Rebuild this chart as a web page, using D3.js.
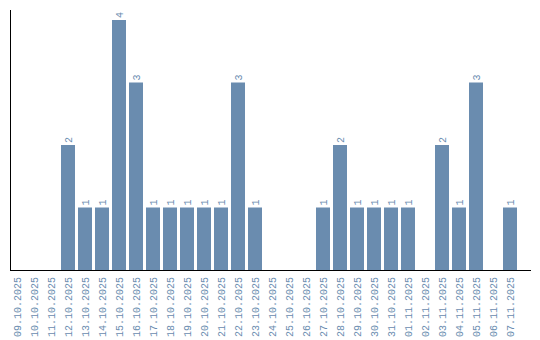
<!DOCTYPE html>
<html>
<head>
<meta charset="utf-8">
<script src="https://cdn.jsdelivr.net/npm/d3@7"></script>
<style>
  body { margin: 0; background: #fff; }
</style>
</head>
<body>
<div id="chart"></div>
<script>
const dates = [
  "09.10.2025", "10.10.2025", "11.10.2025", "12.10.2025", "13.10.2025",
  "14.10.2025", "15.10.2025", "16.10.2025", "17.10.2025", "18.10.2025",
  "19.10.2025", "20.10.2025", "21.10.2025", "22.10.2025", "23.10.2025",
  "24.10.2025", "25.10.2025", "26.10.2025", "27.10.2025", "28.10.2025",
  "29.10.2025", "30.10.2025", "31.10.2025", "01.11.2025", "02.11.2025",
  "03.11.2025", "04.11.2025", "05.11.2025", "06.11.2025", "07.11.2025"
];
const counts = [
  0, 0, 0, 2, 1,
  1, 4, 3, 1, 1,
  1, 1, 1, 3, 1,
  0, 0, 0, 1, 2,
  1, 1, 1, 1, 0,
  2, 1, 3, 0, 1
];

const width = 540, height = 340;
const color = "#6a8caf";
const font = "Liberation Mono";

const svg = d3.select("#chart").append("svg")
  .attr("width", width)
  .attr("height", height)
  .attr("font-family", font);

// step 17px, bars 14px wide
const x = d3.scaleBand()
  .domain(dates)
  .range([10, 517])
  .paddingInner(3 / 17)
  .paddingOuter(0);

const y = d3.scaleLinear()
  .domain([0, 4])
  .range([270, 20]);

const rows = dates.map((d, i) => ({ d, v: counts[i] })).filter(e => e.v > 0);

// bars
svg.append("g")
  .selectAll("rect")
  .data(rows)
  .join("rect")
  .attr("x", e => x(e.d))
  .attr("y", e => y(e.v))
  .attr("width", x.bandwidth())
  .attr("height", e => y(0) - y(e.v))
  .attr("fill", color);

// value labels
svg.append("g")
  .selectAll("text")
  .data(rows)
  .join("text")
  .attr("transform", e => `translate(${x(e.d) + x.bandwidth() / 2},${y(e.v) - 2}) rotate(-90)`)
  .attr("dy", "0.35em")
  .attr("font-size", 10)
  .attr("fill", color)
  .text(e => e.v);

// axis lines
svg.append("line")
  .attr("x1", 10.5).attr("x2", 10.5)
  .attr("y1", 10).attr("y2", 270)
  .attr("stroke", "#000");
svg.append("line")
  .attr("x1", 10).attr("x2", 531)
  .attr("y1", 270.5).attr("y2", 270.5)
  .attr("stroke", "#000");

// x tick labels
svg.append("g")
  .selectAll("text")
  .data(dates)
  .join("text")
  .attr("transform", d => `translate(${x(d) + x.bandwidth() / 2},277) rotate(-90)`)
  .attr("text-anchor", "end")
  .attr("dy", "0.35em")
  .attr("font-size", 10)
  .attr("fill", color)
  .text(d => d);
</script>
</body>
</html>
